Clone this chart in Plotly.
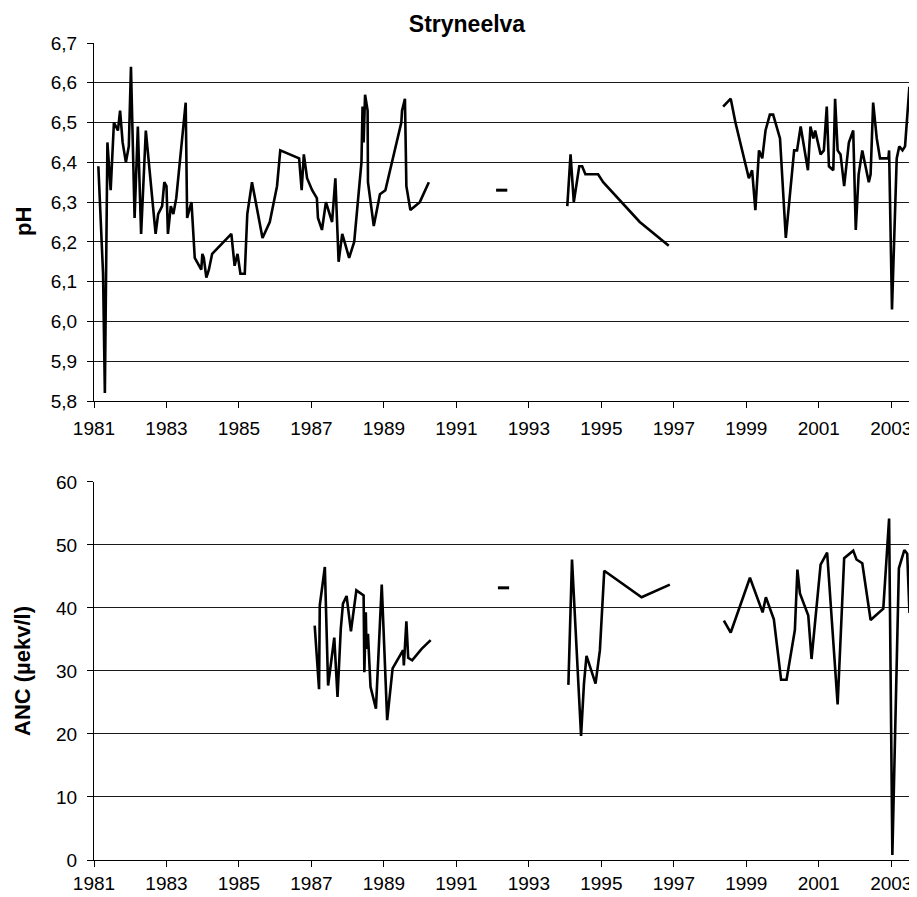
import plotly.graph_objects as go

# pH, Stryneelva (decimal years; None breaks the line)
ph_year = [
    1981.12, 1981.25, 1981.30, 1981.37, 1981.46, 1981.55, 1981.66, 1981.72, 1981.79, 1981.88,
    1981.96, 1982.02, 1982.12, 1982.21, 1982.30, 1982.43, 1982.70, 1982.77, 1982.88, 1982.94,
    1983.00, 1983.04, 1983.12, 1983.19, 1983.27, 1983.53, 1983.57, 1983.63, 1983.69, 1983.78,
    1983.96, 1983.99, 1984.03, 1984.10, 1984.17, 1984.26, 1984.79, 1984.88, 1984.96, 1985.04,
    1985.16, 1985.23, 1985.36, 1985.65, 1985.85, 1986.05, 1986.14, 1986.66, 1986.73, 1986.79,
    1986.88, 1987.02, 1987.15, 1987.18, 1987.29, 1987.40, 1987.57, 1987.66, 1987.75, 1987.85,
    1988.04, 1988.18, 1988.38, 1988.41, 1988.44, 1988.48, 1988.55, 1988.56, 1988.72, 1988.89,
    1989.04, 1989.48, 1989.50, 1989.58, 1989.62, 1989.73, 1989.99, 1990.24, None,
    1994.06, 1994.15, 1994.24, 1994.39, 1994.47, 1994.56, 1994.91, 1995.05, 1996.06, 1996.86, None,
    1998.36, 1998.57, 1998.70, 1999.07, 1999.16, 1999.25, 1999.35, 1999.44, 1999.53, 1999.65,
    1999.74, 1999.93, 2000.09, 2000.32, 2000.40, 2000.50, 2000.70, 2000.77, 2000.85, 2000.90,
    2001.05, 2001.14, 2001.22, 2001.28, 2001.40, 2001.45, 2001.52, 2001.60, 2001.70, 2001.83,
    2001.95, 2002.02, 2002.10, 2002.20, 2002.38, 2002.43, 2002.50, 2002.60, 2002.69, 2002.92,
    2002.94, 2003.02, 2003.15, 2003.22, 2003.31, 2003.38, 2003.50, 2003.72,
]
ph_value = [
    6.39, 6.12, 5.82, 6.45, 6.33, 6.50, 6.48, 6.53, 6.45, 6.40,
    6.44, 6.64, 6.26, 6.49, 6.22, 6.48, 6.22, 6.27, 6.29, 6.35,
    6.34, 6.22, 6.29, 6.27, 6.31, 6.55, 6.26, 6.28, 6.30, 6.16,
    6.13, 6.17, 6.16, 6.11, 6.13, 6.17, 6.22, 6.14, 6.17, 6.12,
    6.12, 6.27, 6.35, 6.21, 6.25, 6.34, 6.43, 6.41, 6.33, 6.42,
    6.36, 6.33, 6.31, 6.26, 6.23, 6.30, 6.25, 6.36, 6.15, 6.22,
    6.16, 6.20, 6.40, 6.54, 6.45, 6.57, 6.53, 6.35, 6.24, 6.32,
    6.33, 6.50, 6.53, 6.56, 6.34, 6.28, 6.30, 6.35, None,
    6.29, 6.42, 6.30, 6.39, 6.39, 6.37, 6.37, 6.35, 6.25, 6.19, None,
    6.54, 6.56, 6.50, 6.36, 6.38, 6.28, 6.43, 6.41, 6.48, 6.52,
    6.52, 6.46, 6.21, 6.43, 6.43, 6.49, 6.38, 6.49, 6.46, 6.48,
    6.42, 6.43, 6.54, 6.39, 6.38, 6.56, 6.43, 6.42, 6.34, 6.45,
    6.48, 6.23, 6.37, 6.43, 6.35, 6.37, 6.55, 6.46, 6.41, 6.41,
    6.43, 6.03, 6.41, 6.44, 6.43, 6.44, 6.59, 6.40,
]
ph_single_year = [1992.25]
ph_single_value = [6.33]

# ANC (µekv/l)
anc_year = [
    1987.09, 1987.21, 1987.23, 1987.37, 1987.46, 1987.63, 1987.72, 1987.81, 1987.87, 1987.97,
    1988.09, 1988.24, 1988.44, 1988.46, 1988.50, 1988.52, 1988.56, 1988.63, 1988.78, 1988.94,
    1989.09, 1989.24, 1989.53, 1989.55, 1989.62, 1989.67, 1989.78, 1990.04, 1990.29, None,
    1994.09, 1994.19, 1994.44, 1994.52, 1994.59, 1994.84, 1994.96, 1995.08, 1996.11, 1996.89, None,
    1998.38, 1998.57, 1999.10, 1999.45, 1999.54, 1999.76, 1999.96, 2000.11, 2000.34, 2000.41,
    2000.48, 2000.71, 2000.80, 2000.91, 2001.05, 2001.23, 2001.52, 2001.70, 2001.95, 2002.04,
    2002.20, 2002.43, 2002.78, 2002.94, 2003.03, 2003.21, 2003.36, 2003.44, 2003.50, 2003.70,
]
anc_value = [
    37.2, 27.1, 40.4, 46.5, 27.7, 35.3, 25.9, 36.7, 40.7, 41.9,
    36.3, 42.8, 42.0, 29.8, 39.3, 33.5, 35.9, 27.5, 24.0, 43.7,
    22.2, 30.4, 33.3, 30.9, 37.9, 32.1, 31.7, 33.5, 34.9, None,
    27.8, 47.7, 19.7, 28.0, 32.4, 28.0, 33.3, 45.9, 41.7, 43.7, None,
    38.0, 36.1, 44.8, 39.3, 41.7, 38.2, 28.6, 28.6, 36.5, 46.1,
    42.3, 38.8, 31.9, 38.0, 46.9, 48.8, 24.7, 47.9, 49.1, 47.7,
    47.1, 38.1, 39.9, 54.2, 0.8, 46.3, 49.2, 48.6, 39.5, 40.1,
]
anc_single_year = [1992.30]
anc_single_value = [43.2]

year_ticks = list(range(1981, 2004, 2))

FONT = "Arial, Liberation Sans, sans-serif"
# the page body keeps its 8px margin, so the figure is 8px smaller than the window
W, H = 909, 889
L = 86

fig = go.Figure()

line = dict(color="black", width=2.6)
dash = dict(symbol="line-ew", size=8, color="black", line=dict(color="black", width=3))

fig.add_trace(go.Scatter(x=ph_year, y=ph_value, mode="lines", line=line,
                         connectgaps=False, xaxis="x", yaxis="y"))
fig.add_trace(go.Scatter(x=ph_single_year, y=ph_single_value, mode="markers",
                         marker=dash, xaxis="x", yaxis="y"))
fig.add_trace(go.Scatter(x=anc_year, y=anc_value, mode="lines", line=line,
                         connectgaps=False, xaxis="x2", yaxis="y2"))
fig.add_trace(go.Scatter(x=anc_single_year, y=anc_single_value, mode="markers",
                         marker=dash, xaxis="x2", yaxis="y2"))

xcommon = dict(
    range=[1981, 2003.71], tickvals=year_ticks, tickformat="d",
    showgrid=False, zeroline=False, showline=True, linecolor="black", linewidth=1,
    ticks="outside", ticklen=6, tickcolor="black",
    tickfont=dict(family=FONT, size=19, color="black"),
)
ycommon = dict(
    showgrid=True, gridcolor="#1a1a1a", gridwidth=1, zeroline=False,
    showline=True, linecolor="black", linewidth=1,
    ticks="outside", ticklen=6, tickcolor="black", ticklabelstandoff=6,
    tickfont=dict(family=FONT, size=19, color="black"),
)

fig.update_layout(
    width=W, height=H,
    margin=dict(l=L, r=0, t=35, b=37),
    paper_bgcolor="white", plot_bgcolor="white",
    showlegend=False,
    separators=", ",
    title=dict(text="<b>Stryneelva</b>", x=459 / W, xanchor="center",
               y=1 - 16 / H, yanchor="middle",
               font=dict(family=FONT, size=23, color="black")),
    xaxis=dict(domain=[0, 1], anchor="y", ticklabelstandoff=4, **xcommon),
    yaxis=dict(domain=[0.5618, 1], anchor="x", range=[5.8, 6.7], dtick=0.1,
               tickformat=".1f", **ycommon),
    xaxis2=dict(domain=[0, 1], anchor="y2", **xcommon),
    yaxis2=dict(domain=[0, 0.4627], anchor="x2", range=[0, 60], dtick=10, **ycommon),
    annotations=[
        dict(text="<b>pH</b>", textangle=-90, xref="paper", yref="paper",
             x=(15 - L) / (W - L), y=(0.5618 + 1) / 2, xanchor="center", yanchor="middle",
             showarrow=False, font=dict(family=FONT, size=22, color="black")),
        dict(text="<b>ANC (µekv/l)</b>", textangle=-90, xref="paper", yref="paper",
             x=(15 - L) / (W - L), y=0.4627 / 2, xanchor="center", yanchor="middle",
             showarrow=False, font=dict(family=FONT, size=22, color="black")),
    ],
)

fig.write_html("out.html")
